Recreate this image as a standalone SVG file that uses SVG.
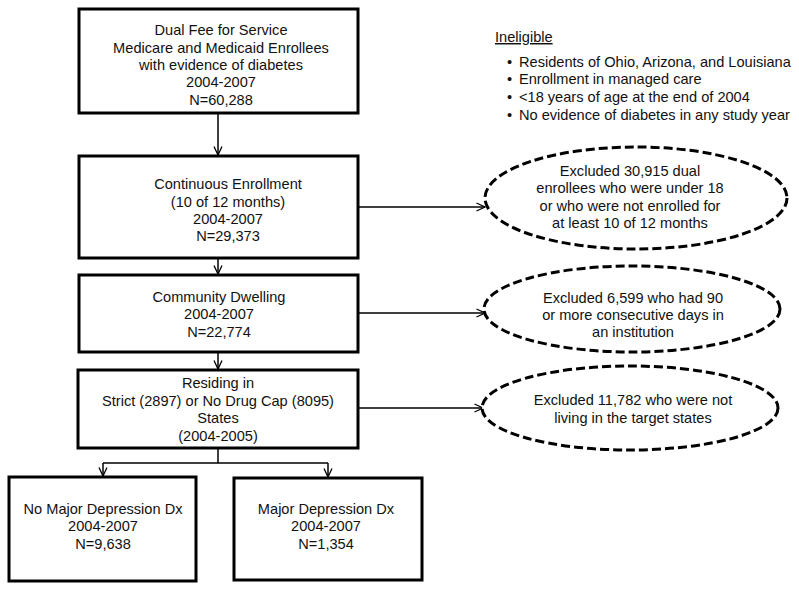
<svg xmlns="http://www.w3.org/2000/svg" width="799" height="591" viewBox="0 0 799 591">
<style>
text{font-family:"Liberation Sans",Arial,sans-serif;font-size:14.6px;fill:#111;text-anchor:middle}
.box{fill:#fff;stroke:#000;stroke-width:3}
.ell{fill:#fff;stroke:#000;stroke-width:3;stroke-dasharray:9 4}
.ln{fill:none;stroke:#000;stroke-width:1.5}
.ar{fill:none;stroke:#000;stroke-width:1.5;marker-end:url(#v)}
.l{text-anchor:start}
</style>
<defs>
<marker id="v" viewBox="0 0 10 10" refX="9.5" refY="5" markerWidth="10" markerHeight="10" markerUnits="userSpaceOnUse" orient="auto">
<path d="M1,1 L9.5,5 L1,9" fill="none" stroke="#000" stroke-width="1.3"/>
</marker>
</defs>
<g id="connectors">
<line class="ar" x1="218" y1="113" x2="218" y2="155"/>
<line class="ar" x1="218" y1="258" x2="218" y2="274"/>
<line class="ar" x1="218" y1="352" x2="218" y2="369"/>
<polyline class="ln" points="218,448 218,463"/>
<polyline class="ln" points="103,463 328,463"/>
<line class="ar" x1="103" y1="463" x2="103" y2="476"/>
<line class="ar" x1="328" y1="463" x2="328" y2="477"/>
<line class="ar" x1="358" y1="207" x2="485" y2="207"/>
<line class="ar" x1="358" y1="313" x2="485" y2="313"/>
<line class="ar" x1="358" y1="408" x2="483" y2="408"/>
</g>
<g id="n1">
<rect class="box" x="79" y="9" width="279" height="104"/>
<text x="221" y="35">Dual Fee for Service</text>
<text x="221" y="52.5">Medicare and Medicaid Enrollees</text>
<text x="221" y="70">with evidence of diabetes</text>
<text x="221" y="87">2004-2007</text>
<text x="221" y="105">N=60,288</text>
</g>
<g id="n2">
<rect class="box" x="79" y="156" width="279" height="102"/>
<text x="228" y="189">Continuous Enrollment</text>
<text x="228" y="207">(10 of 12 months)</text>
<text x="228" y="224">2004-2007</text>
<text x="228" y="241">N=29,373</text>
</g>
<g id="n3">
<rect class="box" x="79" y="275" width="279" height="77"/>
<text x="219" y="302">Community Dwelling</text>
<text x="219" y="319">2004-2007</text>
<text x="219" y="337">N=22,774</text>
</g>
<g id="n4">
<rect class="box" x="78" y="370" width="280" height="78"/>
<text x="218" y="388">Residing in</text>
<text x="218" y="406">Strict (2897) or No Drug Cap (8095)</text>
<text x="218" y="423">States</text>
<text x="218" y="441">(2004-2005)</text>
</g>
<g id="n5">
<rect class="box" x="9" y="477" width="187" height="104"/>
<text x="103" y="514">No Major Depression Dx</text>
<text x="103" y="531">2004-2007</text>
<text x="103" y="549">N=9,638</text>
</g>
<g id="n6">
<rect class="box" x="234" y="478" width="188" height="102"/>
<text x="326" y="514">Major Depression Dx</text>
<text x="326" y="531">2004-2007</text>
<text x="326" y="549">N=1,354</text>
</g>
<g id="ineligible">
<text class="l" x="495" y="42" text-decoration="underline">Ineligible</text>
<text class="l" x="507" y="67">•</text>
<text class="l" x="519" y="67">Residents of Ohio, Arizona, and Louisiana</text>
<text class="l" x="507" y="84">•</text>
<text class="l" x="519" y="84">Enrollment in managed care</text>
<text class="l" x="507" y="102">•</text>
<text class="l" x="519" y="102">&lt;18 years of age at the end of 2004</text>
<text class="l" x="507" y="120">•</text>
<text class="l" x="519" y="120">No evidence of diabetes in any study year</text>
</g>
<g id="e1">
<ellipse class="ell" cx="636" cy="198" rx="151" ry="51"/>
<text x="630" y="176">Excluded 30,915 dual</text>
<text x="630" y="193">enrollees who were under 18</text>
<text x="630" y="211">or who were not enrolled for</text>
<text x="630" y="228">at least 10 of 12 months</text>
</g>
<g id="e2">
<ellipse class="ell" cx="632" cy="309" rx="148" ry="43"/>
<text x="633" y="303">Excluded 6,599 who had 90</text>
<text x="633" y="320">or more consecutive days in</text>
<text x="633" y="337">an institution</text>
</g>
<g id="e3">
<ellipse class="ell" cx="630" cy="408" rx="148" ry="42"/>
<text x="633" y="405">Excluded 11,782 who were not</text>
<text x="633" y="423">living in the target states</text>
</g>
</svg>
